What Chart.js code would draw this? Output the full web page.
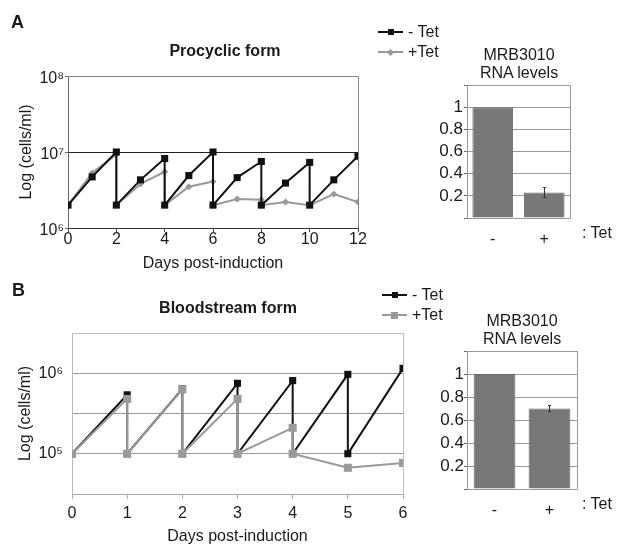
<!DOCTYPE html>
<html><head><meta charset="utf-8">
<script src="https://cdn.jsdelivr.net/npm/chart.js@4.4.1/dist/chart.umd.min.js"></script>
<style>
html,body{margin:0;padding:0;background:#fff;}
body{width:618px;height:545px;position:relative;overflow:hidden;font-family:'Liberation Sans',Arial,Helvetica,sans-serif;color:#1a1a1a;}
canvas{position:absolute;left:0;top:0;}
.t{position:absolute;font-size:16px;line-height:20px;white-space:nowrap;}
.c{transform:translateX(-50%);}
.b{font-weight:bold;}
.ln{position:absolute;height:2px;}
.mk{position:absolute;}
</style></head><body>
<canvas id="lineA" width="618" height="545"></canvas>
<canvas id="barA" width="618" height="545"></canvas>
<canvas id="lineB" width="618" height="545"></canvas>
<canvas id="barB" width="618" height="545"></canvas>
<div class="t b" style="left:11px;top:12px;font-size:18px">A</div>
<div class="t b" style="left:12px;top:280px;font-size:18px">B</div>
<div class="t b c" style="left:225px;top:41px">Procyclic form</div>
<div class="t b c" style="left:228px;top:298px">Bloodstream form</div>
<div class="t c" style="left:519px;top:45px">MRB3010</div>
<div class="t c" style="left:519px;top:63px">RNA levels</div>
<div class="t c" style="left:522px;top:311px">MRB3010</div>
<div class="t c" style="left:522px;top:329px">RNA levels</div>
<div class="t" style="left:582px;top:223px">: Tet</div>
<div class="t" style="left:582px;top:494px">: Tet</div>
<div id="legends"></div>
<script>
// ---------- DATA ----------
// Panel A: procyclic form growth (cells/ml), sawtooth due to dilution
const daysMinusA  = [0, 1, 2, 2, 3, 4, 4, 5, 6, 6, 7, 8, 8, 9, 10, 10, 11, 12];
const cellsMinusA = [2.0e6, 4.7e6, 1.0e7, 2.0e6, 4.3e6, 8.2e6, 2.0e6, 4.9e6, 1.0e7, 2.0e6, 4.6e6, 7.5e6, 2.0e6, 3.9e6, 7.3e6, 2.0e6, 4.3e6, 8.8e6];
const daysPlusA   = [0, 1, 2, 2, 3, 4, 4, 5, 6, 6, 7, 8, 8, 9, 10, 11, 12];
const cellsPlusA  = [2.0e6, 5.3e6, 9.3e6, 2.0e6, 3.8e6, 5.5e6, 2.0e6, 3.5e6, 4.1e6, 2.0e6, 2.4e6, 2.35e6, 2.0e6, 2.2e6, 2.0e6, 2.8e6, 2.2e6];
const xTicksA     = [0, 2, 4, 6, 8, 10, 12];
const yTicksA     = [1e6, 1e7, 1e8];
const yLabelsA    = ['10\u2076', '10\u2077', '10\u2078'];

// Panel B: bloodstream form growth
const daysMinusB  = [0, 1, 1, 2, 2, 3, 3, 4, 4, 5, 5, 6];
const cellsMinusB = [1e5, 5.4e5, 1e5, 6.4e5, 1e5, 7.5e5, 1e5, 8.1e5, 1e5, 9.7e5, 1e5, 1.15e6];
const daysPlusB   = [0, 1, 1, 2, 2, 3, 3, 4, 4, 5, 6];
const cellsPlusB  = [1e5, 4.8e5, 1e5, 6.3e5, 1e5, 4.8e5, 1e5, 2.1e5, 1e5, 6.7e4, 7.7e4];
const xTicksB     = [0, 1, 2, 3, 4, 5, 6];
const yTicksB     = [31623, 1e5, 316228, 1e6, 3162278];
const yLabelsB    = ['', '10\u2075', '', '10\u2076', ''];

// RNA level bar charts
const tetCategories = ['-', '+'];
const rnaA = [1.0, 0.23];
const rnaErrA = [0, 0.045];
const rnaB = [1.0, 0.70];
const rnaErrB = [0, 0.03];
const barTicks = [0, 0.2, 0.4, 0.6, 0.8, 1.0, 1.2];
const barTickLabels = ['', '0.2', '0.4', '0.6', '0.8', '1', ''];

// ---------- HELPERS ----------
Chart.defaults.font.family = "'Liberation Sans', Arial, Helvetica, sans-serif";
Chart.defaults.font.size = 16;
Chart.defaults.color = '#1a1a1a';

const pts = (xs, ys) => xs.map((x, i) => ({x, y: ys[i]}));
const al = v => Math.round(v - 0.5) + 0.5;

const framePlugin = {
  id: 'frame',
  beforeDatasetsDraw(chart, args, o) {
    const {ctx, chartArea: a} = chart;
    const L = al(a.left), R = al(a.right), T = al(a.top), B = al(a.bottom);
    const sides = {top: [L, T, R, T], right: [R, T, R, B], bottom: [L, B, R, B], left: [L, T, L, B]};
    ctx.save();
    ctx.lineWidth = 1;
    for (const k of Object.keys(sides)) {
      if (!o[k]) continue;
      const [x1, y1, x2, y2] = sides[k];
      ctx.strokeStyle = o[k];
      ctx.beginPath(); ctx.moveTo(x1, y1); ctx.lineTo(x2, y2); ctx.stroke();
    }
    ctx.restore();
  }
};

const errorBarPlugin = {
  id: 'errorBars',
  afterDatasetsDraw(chart, args, o) {
    if (!o.errors) return;
    const {ctx} = chart;
    const ys = chart.scales.y;
    const ds = chart.data.datasets[0];
    const meta = chart.getDatasetMeta(0);
    meta.data.forEach((bar, i) => {
      const e = o.errors[i];
      if (!e) return;
      const v = ds.data[i];
      const t = ys.getPixelForValue(v + e), b = ys.getPixelForValue(v - e);
      const x = al(bar.x);
      ctx.save();
      ctx.strokeStyle = o.color; ctx.lineWidth = 1;
      ctx.beginPath();
      ctx.moveTo(x, t); ctx.lineTo(x, b);
      ctx.moveTo(x - 1.5, al(t)); ctx.lineTo(x + 1.5, al(t));
      ctx.moveTo(x - 1.5, al(b)); ctx.lineTo(x + 1.5, al(b));
      ctx.stroke();
      ctx.restore();
    });
  }
};

function setTicks(list) { return s => { s.ticks = list.map(v => ({value: v})); }; }
function labelFrom(vals, labels) { return v => { const i = vals.findIndex(t => Math.abs(t - v) < 1e-6 * Math.max(1, Math.abs(t))); return i >= 0 ? labels[i] : ''; }; }

// ---------- CHART A (line) ----------
new Chart(document.getElementById('lineA'), {
  type: 'line',
  data: {
    datasets: [
      {label: '- Tet', data: pts(daysMinusA, cellsMinusA), borderColor: '#111', backgroundColor: '#111',
       borderWidth: 2, pointStyle: 'rect', pointRadius: 5, pointBorderWidth: 0, tension: 0},
      {label: '+Tet', data: pts(daysPlusA, cellsPlusA), borderColor: '#999', backgroundColor: '#999',
       borderWidth: 2, pointStyle: 'rectRot', pointRadius: 3.5, pointBorderWidth: 0, tension: 0}
    ]
  },
  plugins: [framePlugin],
  options: {
    responsive: false, animation: false,
    layout: {padding: {left: 19, top: 76, right: 260, bottom: 273}},
    plugins: {legend: {display: false}, tooltip: {enabled: false},
      frame: {top: '#888', right: '#888', bottom: '#333', left: '#666'}},
    scales: {
      x: {type: 'linear', min: 0, max: 12, afterBuildTicks: setTicks(xTicksA),
        afterFit: s => { s.height = 44; },
        border: {display: false},
        grid: {color: 'transparent', tickColor: '#444', tickLength: 4},
        ticks: {padding: 0, font: {size: 16, lineHeight: 1}, maxRotation: 0, autoSkip: false},
        title: {display: true, text: 'Days post-induction', font: {size: 16, lineHeight: 1}, padding: 0}},
      y: {type: 'logarithmic', min: 1e6, max: 1e8, afterBuildTicks: setTicks(yTicksA),
        afterFit: s => { s.width = 49; },
        border: {display: false},
        grid: {color: c => (c.tick && c.tick.value === 1e7) ? '#222' : 'transparent', tickColor: '#666', tickLength: 3},
        ticks: {padding: 1, labelOffset: 3, autoSkip: false, font: {size: 16}, callback: labelFrom(yTicksA, yLabelsA)},
        title: {display: true, text: 'Log (cells/ml)', font: {size: 16, lineHeight: 1}, padding: 0}}
    }
  }
});

// ---------- CHART A (bars) ----------
new Chart(document.getElementById('barA'), {
  type: 'bar',
  data: {labels: tetCategories, datasets: [{data: rnaA, backgroundColor: '#777', borderColor: '#6a6a6a', borderWidth: 1,
    categoryPercentage: 1, barPercentage: 0.79}]},
  plugins: [framePlugin, errorBarPlugin],
  options: {
    responsive: false, animation: false,
    layout: {padding: {left: 427, top: 85, right: 48, bottom: 297}},
    plugins: {legend: {display: false}, tooltip: {enabled: false},
      frame: {top: '#999', right: '#999', bottom: '#999', left: '#999'},
      errorBars: {errors: rnaErrA, color: '#333'}},
    scales: {
      x: {afterFit: s => { s.height = 30; }, border: {display: false},
        grid: {display: false},
        ticks: {padding: 6, font: {size: 16, lineHeight: 1}}},
      y: {min: 0, max: 1.2, afterBuildTicks: setTicks(barTicks), afterFit: s => { s.width = 40; },
        border: {display: false},
        grid: {color: c => (c.tick && c.tick.value > 0.01 && c.tick.value < 1.19) ? '#999' : 'transparent', tickColor: '#666', tickLength: 3},
        ticks: {padding: 1, autoSkip: false, font: {size: 17}, callback: labelFrom(barTicks, barTickLabels)}}
    }
  }
});

// ---------- CHART B (line) ----------
new Chart(document.getElementById('lineB'), {
  type: 'line',
  data: {
    datasets: [
      {label: '+Tet', data: pts(daysPlusB, cellsPlusB), borderColor: '#9a9a9a', backgroundColor: '#9a9a9a',
       borderWidth: 2, pointStyle: 'rect', pointRadius: 5.7, pointBorderWidth: 0, tension: 0},
      {label: '- Tet', data: pts(daysMinusB, cellsMinusB), borderColor: '#111', backgroundColor: '#111',
       borderWidth: 2, pointStyle: 'rect', pointRadius: 5, pointBorderWidth: 0, tension: 0}
    ]
  },
  plugins: [framePlugin],
  options: {
    responsive: false, animation: false,
    layout: {padding: {left: 18, top: 333, right: 215, bottom: 0}},
    plugins: {legend: {display: false}, tooltip: {enabled: false},
      frame: {top: '#bbb', right: '#bbb', bottom: '#aaa', left: '#bbb'}},
    scales: {
      x: {type: 'linear', min: 0, max: 6, afterBuildTicks: setTicks(xTicksB),
        afterFit: s => { s.height = 51; },
        border: {display: false},
        grid: {color: 'transparent', tickColor: '#aaa', tickLength: 5},
        ticks: {padding: 7, font: {size: 16, lineHeight: 1}, maxRotation: 0, autoSkip: false},
        title: {display: true, text: 'Days post-induction', font: {size: 16, lineHeight: 1}, padding: 0}},
      y: {type: 'logarithmic', min: yTicksB[0], max: yTicksB[yTicksB.length - 1], afterBuildTicks: setTicks(yTicksB),
        afterFit: s => { s.width = 54; },
        border: {display: false},
        grid: {color: c => (c.tick && c.index > 0 && c.index < yTicksB.length - 1) ? '#999' : 'transparent', drawTicks: false},
        ticks: {padding: 9, autoSkip: false, font: {size: 16}, callback: labelFrom(yTicksB, yLabelsB)},
        title: {display: true, text: 'Log (cells/ml)', font: {size: 16, lineHeight: 1}, padding: 0}}
    }
  }
});

// ---------- CHART B (bars) ----------
new Chart(document.getElementById('barB'), {
  type: 'bar',
  data: {labels: tetCategories, datasets: [{data: rnaB, backgroundColor: '#777', borderColor: '#6a6a6a', borderWidth: 1,
    categoryPercentage: 1, barPercentage: 0.76}]},
  plugins: [framePlugin, errorBarPlugin],
  options: {
    responsive: false, animation: false,
    layout: {padding: {left: 427, top: 351, right: 41, bottom: 26}},
    plugins: {legend: {display: false}, tooltip: {enabled: false},
      frame: {top: '#999', right: '#999', bottom: '#999', left: '#999'},
      errorBars: {errors: rnaErrB, color: '#333'}},
    scales: {
      x: {afterFit: s => { s.height = 30; }, border: {display: false},
        grid: {display: false},
        ticks: {padding: 6, font: {size: 16, lineHeight: 1}}},
      y: {min: 0, max: 1.2, afterBuildTicks: setTicks(barTicks), afterFit: s => { s.width = 40; },
        border: {display: false},
        grid: {color: c => (c.tick && c.tick.value > 0.01 && c.tick.value < 1.19) ? '#999' : 'transparent', tickColor: '#666', tickLength: 3},
        ticks: {padding: 0, autoSkip: false, font: {size: 17}, callback: labelFrom(barTicks, barTickLabels)}}
    }
  }
});

// ---------- HTML legends ----------
function legendRow(x, y, color, marker, label) {
  const wrap = document.getElementById('legends');
  const ln = document.createElement('div');
  ln.className = 'ln';
  ln.style.cssText = `left:${x}px;top:${y - 1}px;width:25px;background:${color}`;
  wrap.appendChild(ln);
  const mk = document.createElement('div');
  mk.className = 'mk';
  const s = marker.size;
  mk.style.cssText = `left:${x + 12.5 - s / 2}px;top:${y - s / 2}px;width:${s}px;height:${s}px;background:${color};` +
    (marker.diamond ? 'transform:rotate(45deg);' : '');
  wrap.appendChild(mk);
  const t = document.createElement('div');
  t.className = 't';
  t.style.cssText = `left:${x + 30}px;top:${y - 10}px`;
  t.textContent = label;
  wrap.appendChild(t);
}
legendRow(378, 32, '#111', {size: 6}, '- Tet');
legendRow(378, 52, '#999', {size: 5, diamond: true}, '+Tet');
legendRow(382, 295, '#111', {size: 6}, '- Tet');
legendRow(382, 315, '#9a9a9a', {size: 7}, '+Tet');
</script>
</body></html>
